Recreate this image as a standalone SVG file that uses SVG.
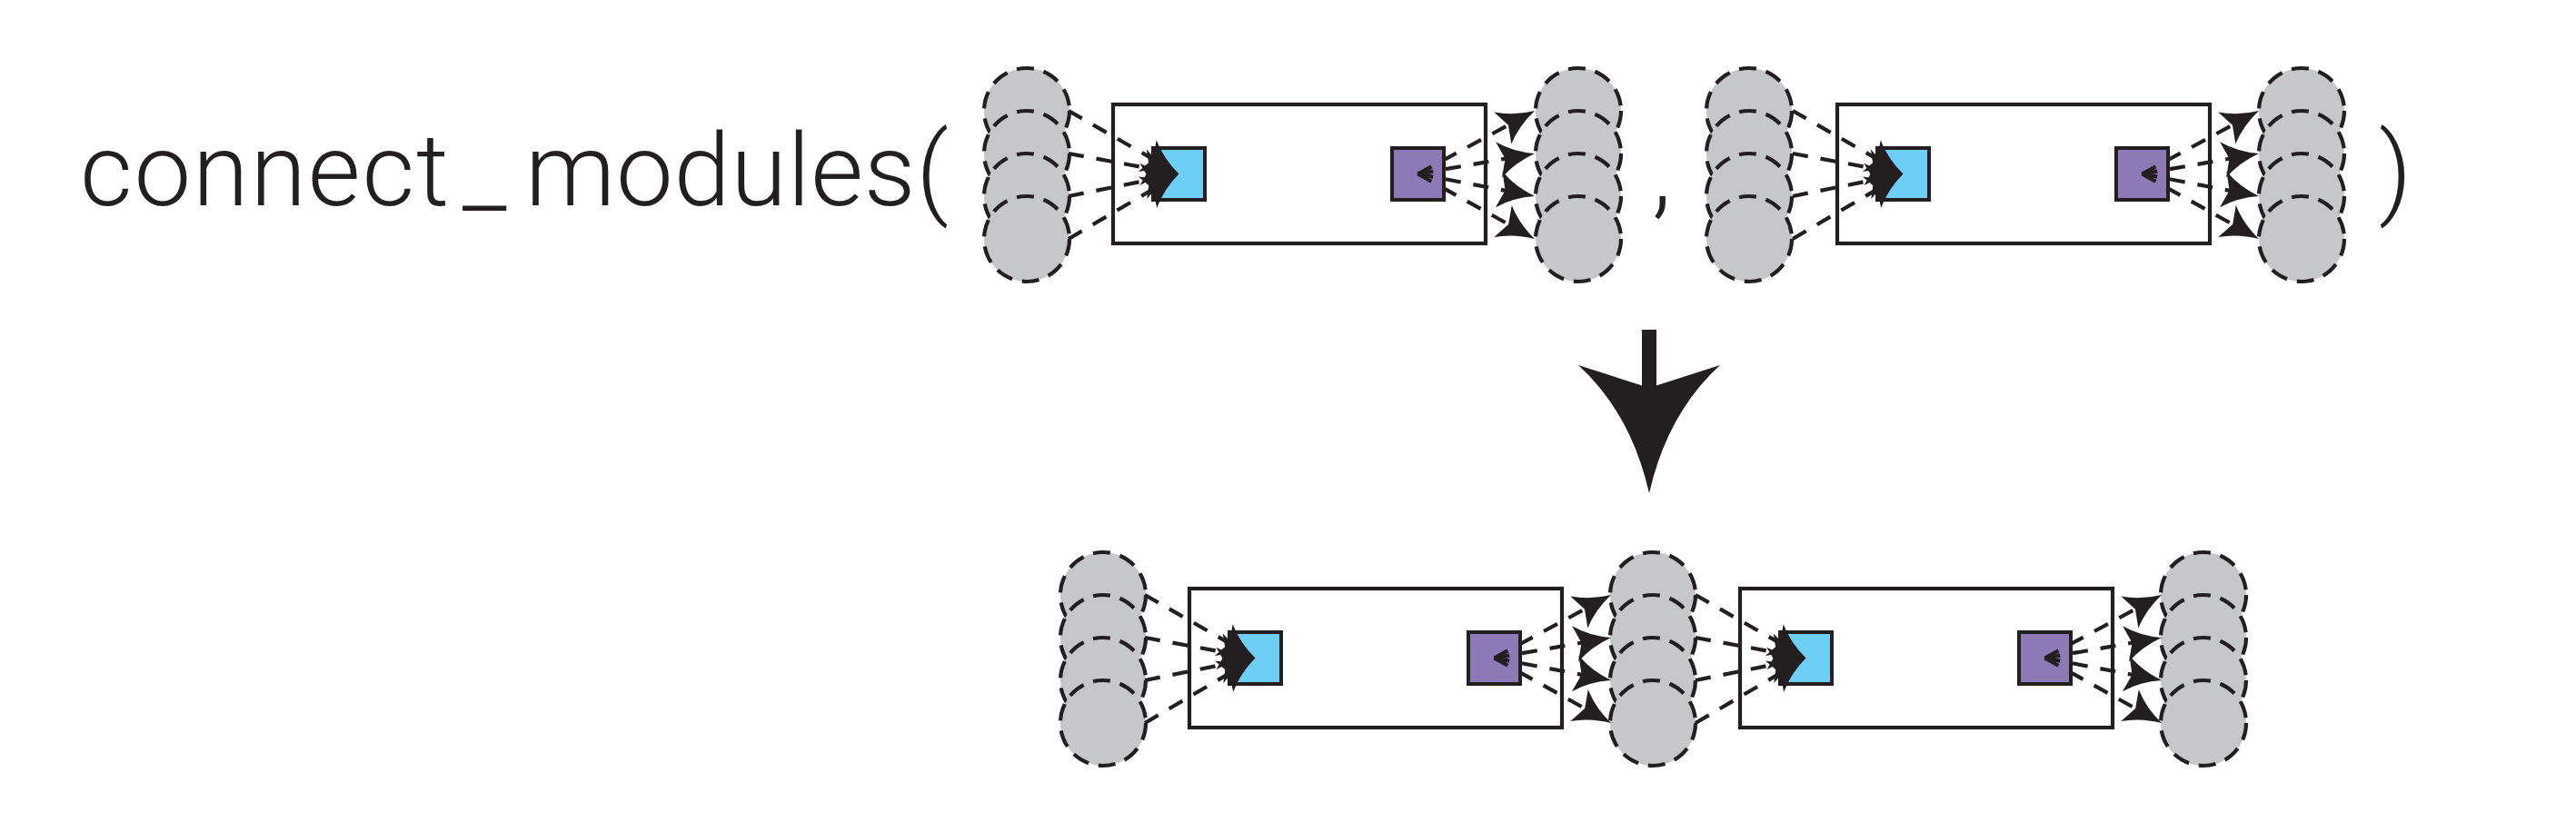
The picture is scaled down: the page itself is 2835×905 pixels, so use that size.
<svg xmlns="http://www.w3.org/2000/svg" xmlns:xlink="http://www.w3.org/1999/xlink" width="2835" height="905" viewBox="0 0 2835 905">
<style>
.txt{font-family:Roboto,Inter,"Liberation Sans",sans-serif;font-weight:300;font-size:112px;fill:#231f20}
.cir{fill:#c6c7c9;stroke:#231f20;stroke-width:4.2;stroke-dasharray:19 11}
.box{fill:#ffffff;stroke:#231f20;stroke-width:4.2}
.in{fill:#6dcff6;stroke:#231f20;stroke-width:4}
.out{fill:#8c79b5;stroke:#231f20;stroke-width:4}
.ln{fill:none;stroke:#231f20;stroke-width:4.2;stroke-dasharray:17 14;marker-end:url(#ah)}
</style>
<defs>
<marker id="ah" markerUnits="userSpaceOnUse" markerWidth="90" markerHeight="90" viewBox="-45 -45 90 90" refX="0" refY="0" orient="auto" overflow="visible">
<path d="M12,0 Q-11,6 -28,20 L-21,0 L-28,-20 Q-11,-6 12,0 Z" fill="#231f20"/>
</marker>
<g id="stack">
<circle class="cir" cx="0" cy="7" r="47"/>
<circle class="cir" cx="0" cy="54" r="47"/>
<circle class="cir" cx="0" cy="101" r="47"/>
<circle class="cir" cx="0" cy="148" r="47"/>
</g>
<g id="mod">
<rect class="box" x="0" y="0" width="410" height="153"/>
<rect class="in" x="44" y="48" width="57" height="57"/>
<rect class="out" x="307" y="48" width="57" height="57"/>
</g>
<g id="lines">
<line class="ln" x1="-49" y1="7" x2="62.08" y2="70.54"/>
<line class="ln" x1="-49" y1="54" x2="60.70" y2="74.31"/>
<line class="ln" x1="-49" y1="101" x2="60.74" y2="78.87"/>
<line class="ln" x1="-49" y1="148" x2="62.16" y2="82.59"/>
<line class="ln" x1="335.5" y1="76.5" x2="453.44" y2="12.71"/>
<line class="ln" x1="335.5" y1="76.5" x2="452.18" y2="56.07"/>
<line class="ln" x1="335.5" y1="76.5" x2="452.21" y2="98.75"/>
<line class="ln" x1="335.5" y1="76.5" x2="453.51" y2="142.17"/>
</g>
</defs>
<rect x="0" y="0" width="2835" height="905" fill="#ffffff"/>
<g id="text">
<text class="txt" x="88" y="226" textLength="406" lengthAdjust="spacing">connect</text>
<text class="txt" x="509" y="226">_</text>
<text class="txt" x="578" y="226" textLength="466" lengthAdjust="spacing">modules(</text>
<text class="txt" x="1818" y="226">,</text>
<text class="txt" x="2618" y="226">)</text>
</g>
<g id="stack-top-1-in"><use xlink:href="#stack" x="1130" y="115"/></g>
<g id="module-top-1"><use xlink:href="#mod" x="1225" y="115"/></g>
<g id="stack-top-1-out"><use xlink:href="#stack" x="1737" y="115"/></g>
<g id="stack-top-2-in"><use xlink:href="#stack" x="1925" y="115"/></g>
<g id="module-top-2"><use xlink:href="#mod" x="2022" y="115"/></g>
<g id="stack-top-2-out"><use xlink:href="#stack" x="2533" y="115"/></g>
<g id="stack-bottom-in"><use xlink:href="#stack" x="1214" y="648"/></g>
<g id="module-bottom-1"><use xlink:href="#mod" x="1309" y="648"/></g>
<g id="stack-bottom-mid"><use xlink:href="#stack" x="1819" y="648"/></g>
<g id="module-bottom-2"><use xlink:href="#mod" x="1915" y="648"/></g>
<g id="stack-bottom-out"><use xlink:href="#stack" x="2425" y="648"/></g>
<g id="connectors">
<use xlink:href="#lines" x="1225" y="115"/>
<use xlink:href="#lines" x="2022" y="115"/>
<use xlink:href="#lines" x="1309" y="648"/>
<use xlink:href="#lines" x="1915" y="648"/>
</g>
<g id="transform-arrow" fill="#231f20">
<rect x="1807" y="363" width="16" height="70"/>
<path d="M1737,402 L1815,427 L1893,402 Q1835,455 1815,543 Q1795,455 1737,402 Z"/>
</g>
</svg>
